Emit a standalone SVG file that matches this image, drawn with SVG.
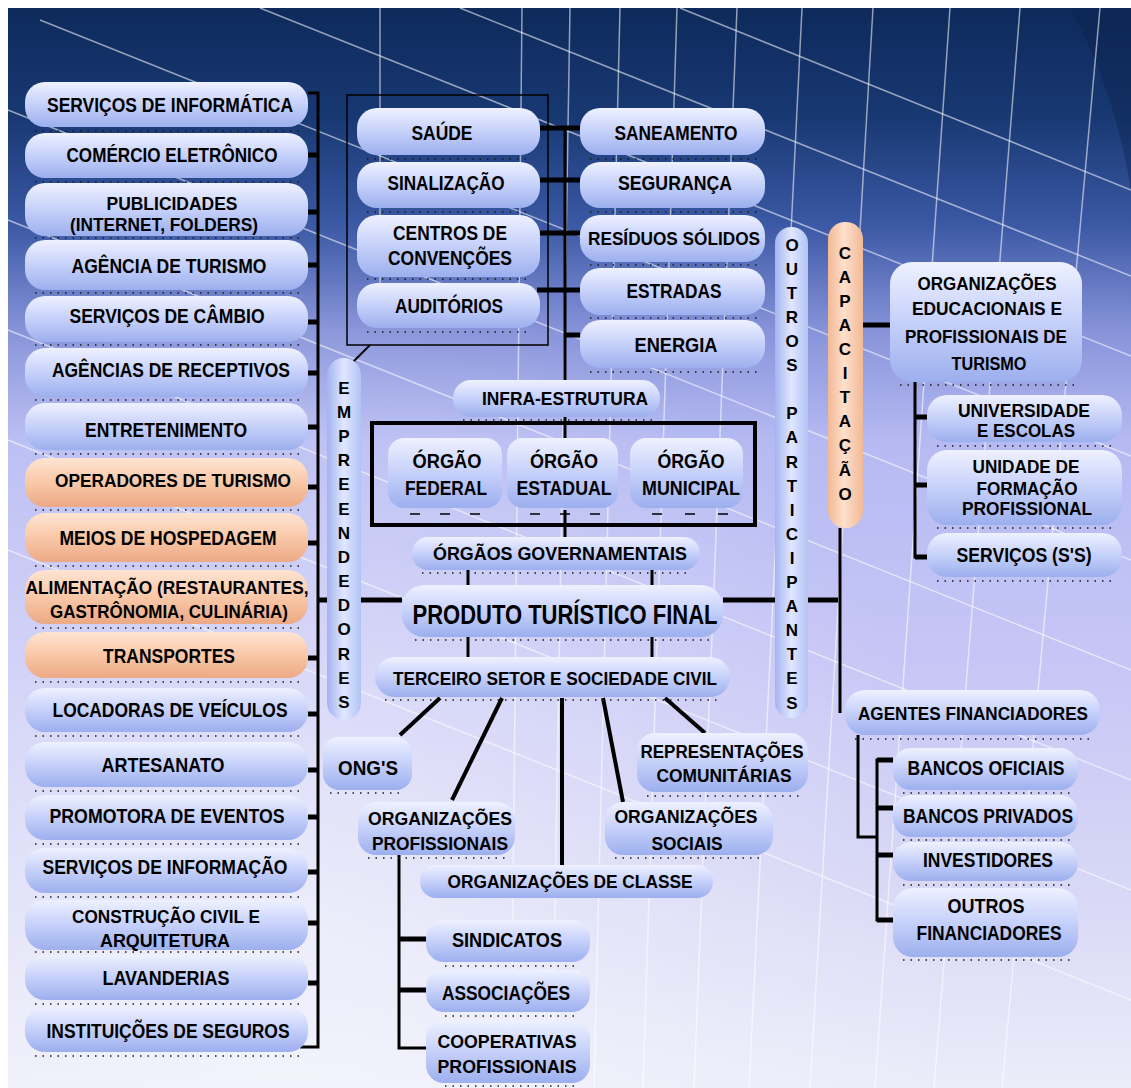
<svg xmlns="http://www.w3.org/2000/svg" width="1131" height="1088" viewBox="0 0 1131 1088">
<defs>
<linearGradient id="bg" x1="0" y1="0" x2="0" y2="1">
<stop offset="0" stop-color="#0e2a5c"/>
<stop offset="0.1" stop-color="#183872"/>
<stop offset="0.2" stop-color="#3b58a4"/>
<stop offset="0.3" stop-color="#8894da"/>
<stop offset="0.4" stop-color="#b6baf2"/>
<stop offset="0.6" stop-color="#c6c6f6"/>
<stop offset="0.8" stop-color="#d6d6f6"/>
<stop offset="1" stop-color="#ececfa"/>
</linearGradient>
<radialGradient id="glow" cx="0.25" cy="0.85" r="0.6">
<stop offset="0" stop-color="#ffffff" stop-opacity="0.5"/>
<stop offset="1" stop-color="#ffffff" stop-opacity="0"/>
</radialGradient>
<linearGradient id="gB" x1="0" y1="0" x2="0" y2="1">
<stop offset="0" stop-color="#eef1ff"/>
<stop offset="0.45" stop-color="#cad4fb"/>
<stop offset="1" stop-color="#9cafee"/>
</linearGradient>
<linearGradient id="gO" x1="0" y1="0" x2="0" y2="1">
<stop offset="0" stop-color="#fee4d2"/>
<stop offset="0.5" stop-color="#f9c8a8"/>
<stop offset="1" stop-color="#eca985"/>
</linearGradient>
<linearGradient id="gBV" x1="0" y1="0" x2="1" y2="0">
<stop offset="0" stop-color="#a2b4ef"/>
<stop offset="0.5" stop-color="#e0e7ff"/>
<stop offset="1" stop-color="#b2c2f4"/>
</linearGradient>
<linearGradient id="gOV" x1="0" y1="0" x2="1" y2="0">
<stop offset="0" stop-color="#f3b894"/>
<stop offset="0.45" stop-color="#fde0cc"/>
<stop offset="1" stop-color="#f2b996"/>
</linearGradient>
<style>
.p{fill:url(#gB)}
.o{fill:url(#gO)}
.pv{fill:url(#gBV)}
.ov{fill:url(#gOV)}
.sh{fill:none;stroke:#1a1a1a;stroke-width:1.6;stroke-dasharray:1.5 6}
.t{font-family:"Liberation Sans",Arial,sans-serif;font-size:21px;font-weight:bold;fill:#000;text-anchor:middle}
.s{font-size:19px}
.n{font-size:18px}
.v{font-family:"Liberation Sans",Arial,sans-serif;font-size:17px;font-weight:bold;fill:#000;text-anchor:middle}
.c{fill:none;stroke:#000;stroke-width:3}
.k{fill:none;stroke:#000;stroke-width:5}
.gl{fill:none;stroke:#ffffff;stroke-opacity:0.55;stroke-width:1.5}
</style>
</defs>

<g id="background">
<rect x="0" y="0" width="1131" height="1088" fill="#ffffff"/>
<rect x="8" y="8" width="1123" height="1080" fill="url(#bg)"/>
<path d="M1070,8 Q1115,90 1131,190 L1131,8 Z" fill="#0a2048" fill-opacity="0.35"/>
<rect x="8" y="8" width="1123" height="1080" fill="url(#glow)"/>
<g class="gl">
<path d="M522,8 L511,1088"/><path d="M570,8 L552,1088"/><path d="M620,8 L594,1088"/>
<path d="M677,8 L643,1088"/><path d="M737,8 L694,1088"/><path d="M802,8 L749,1088"/>
<path d="M873,8 L810,1088"/><path d="M950,8 L875,1088"/><path d="M1020,8 L934,1088"/>
<path d="M1100,8 L1002,1088"/><path d="M380,8 L380,300"/>
<path d="M460,8 L1131,276"/><path d="M260,8 L1131,356"/><path d="M40,20 L1131,456"/>
<path d="M8,110 L1131,560"/><path d="M8,220 L1131,670"/><path d="M8,330 L1131,780"/>
<path d="M8,440 L1131,890"/><path d="M8,550 L1131,1000"/><path d="M680,8 L1131,190"/>
</g>
</g>

<g id="connectors">
<path class="c" d="M308,93 H318 V1047 H300"/>
<g class="k">
<path d="M308,155 H318"/><path d="M308,212 H318"/><path d="M308,265 H318"/><path d="M308,322 H318"/>
<path d="M308,373 H318"/><path d="M308,427 H318"/><path d="M308,487 H318"/><path d="M308,543 H318"/>
<path d="M308,658 H318"/><path d="M308,714 H318"/><path d="M308,770 H318"/><path d="M308,817 H318"/>
<path d="M308,872 H318"/><path d="M308,923 H318"/><path d="M308,983 H318"/>
<path d="M318,600 H402"/><path d="M723,600 H838"/>
<path d="M540,128 H580"/><path d="M540,180 H580"/><path d="M540,233 H580"/><path d="M537,290 H580"/><path d="M565,335 H580"/>
<path d="M863,325 H890"/>
<path d="M915,417 H927"/><path d="M915,485 H927"/><path d="M915,557 H927"/>
<path d="M877,760 H893"/><path d="M877,808 H893"/><path d="M877,855 H893"/><path d="M877,920 H893"/>
<path d="M399,939 H426"/><path d="M399,990 H426"/>
</g>
<path class="c" d="M565,128 V380"/>
<path class="c" d="M565,417 V440"/>
<path class="c" d="M565,510 V537"/>
<path class="c" d="M468,570 V585"/><path class="c" d="M652,570 V585"/>
<path class="c" d="M468,637 V657"/><path class="c" d="M652,637 V657"/>
<path class="c" d="M840,528 V713"/>
<path class="c" d="M915,382 V557 H927"/>
<path class="c" d="M858,735 V837 H877"/>
<path class="c" d="M893,760 H877 V920 H893"/>
<path class="c" d="M399,855 V1048 H426"/>
<path d="M370,345 L353,362" stroke="#000" stroke-width="2" fill="none"/>
<g stroke="#000" stroke-width="4" fill="none">
<path d="M440,698 L400,735"/><path d="M502,698 L452,800"/><path d="M562,698 V865"/>
<path d="M603,698 L623,802"/><path d="M665,698 L705,733"/>
</g>
<rect x="347" y="95" width="201" height="250" fill="none" stroke="#000" stroke-width="1.5"/>
<rect x="372" y="423" width="383" height="102" fill="none" stroke="#000" stroke-width="4"/>
</g>

<!-- left column -->
<g id="n-servicos-informatica"><rect class="p" x="25" y="82" width="283" height="45" rx="20"/><path class="sh" d="M35,131 H300"/><text class="t" x="170" y="112" textLength="246" lengthAdjust="spacingAndGlyphs">SERVIÇOS DE INFORMÁTICA</text></g>
<g id="n-comercio"><rect class="p" x="25" y="133" width="283" height="45" rx="20"/><path class="sh" d="M35,182 H300"/><text class="t" x="172" y="162" textLength="211" lengthAdjust="spacingAndGlyphs">COMÉRCIO ELETRÔNICO</text></g>
<g id="n-publicidades"><rect class="p" x="25" y="183" width="283" height="53" rx="20"/><path class="sh" d="M35,238 H300"/><text class="t s" x="172" y="210" textLength="131" lengthAdjust="spacingAndGlyphs">PUBLICIDADES</text><text class="t s" x="164" y="231" textLength="188" lengthAdjust="spacingAndGlyphs">(INTERNET, FOLDERS)</text></g>
<g id="n-agencia-turismo"><rect class="p" x="25" y="240" width="283" height="50" rx="20"/><path class="sh" d="M35,293 H300"/><text class="t" x="169" y="273" textLength="195" lengthAdjust="spacingAndGlyphs">AGÊNCIA DE TURISMO</text></g>
<g id="n-cambio"><rect class="p" x="25" y="296" width="283" height="46" rx="20"/><path class="sh" d="M35,345 H300"/><text class="t" x="167" y="323" textLength="195" lengthAdjust="spacingAndGlyphs">SERVIÇOS DE CÂMBIO</text></g>
<g id="n-receptivos"><rect class="p" x="25" y="348" width="283" height="49" rx="20"/><path class="sh" d="M35,400 H300"/><text class="t" x="171" y="377" textLength="238" lengthAdjust="spacingAndGlyphs">AGÊNCIAS DE RECEPTIVOS</text></g>
<g id="n-entretenimento"><rect class="p" x="25" y="403" width="283" height="47" rx="20"/><path class="sh" d="M35,454 H300"/><text class="t" x="166" y="437" textLength="162" lengthAdjust="spacingAndGlyphs">ENTRETENIMENTO</text></g>
<g id="n-operadores"><rect class="o" x="25" y="458" width="283" height="49" rx="20"/><path class="sh" d="M35,510 H300"/><text class="t n" x="173" y="487" textLength="236" lengthAdjust="spacingAndGlyphs">OPERADORES DE TURISMO</text></g>
<g id="n-hospedagem"><rect class="o" x="25" y="513" width="283" height="49" rx="20"/><path class="sh" d="M35,566 H300"/><text class="t" x="168" y="545" textLength="217" lengthAdjust="spacingAndGlyphs">MEIOS DE HOSPEDAGEM</text></g>
<g id="n-alimentacao"><rect class="o" x="25" y="570" width="283" height="54" rx="20"/><path class="sh" d="M35,628 H300"/><text class="t s" x="167" y="594" textLength="283" lengthAdjust="spacingAndGlyphs">ALIMENTAÇÃO (RESTAURANTES,</text><text class="t s" x="169" y="618" textLength="238" lengthAdjust="spacingAndGlyphs">GASTRÔNOMIA, CULINÁRIA)</text></g>
<g id="n-transportes"><rect class="o" x="25" y="632" width="283" height="46" rx="20"/><path class="sh" d="M35,682 H300"/><text class="t" x="169" y="663" textLength="132" lengthAdjust="spacingAndGlyphs">TRANSPORTES</text></g>
<g id="n-locadoras"><rect class="p" x="25" y="688" width="283" height="44" rx="20"/><path class="sh" d="M35,736 H300"/><text class="t" x="170" y="717" textLength="235" lengthAdjust="spacingAndGlyphs">LOCADORAS DE VEÍCULOS</text></g>
<g id="n-artesanato"><rect class="p" x="25" y="742" width="283" height="45" rx="20"/><path class="sh" d="M35,791 H300"/><text class="t" x="163" y="772" textLength="123" lengthAdjust="spacingAndGlyphs">ARTESANATO</text></g>
<g id="n-promotora"><rect class="p" x="25" y="795" width="283" height="45" rx="20"/><path class="sh" d="M35,844 H300"/><text class="t" x="167" y="823" textLength="235" lengthAdjust="spacingAndGlyphs">PROMOTORA DE EVENTOS</text></g>
<g id="n-servicos-informacao"><rect class="p" x="25" y="848" width="283" height="45" rx="20"/><path class="sh" d="M35,897 H300"/><text class="t" x="165" y="874" textLength="245" lengthAdjust="spacingAndGlyphs">SERVIÇOS DE INFORMAÇÃO</text></g>
<g id="n-construcao"><rect class="p" x="25" y="900" width="283" height="50" rx="20"/><path class="sh" d="M35,952 H300"/><text class="t s" x="166" y="923" textLength="188" lengthAdjust="spacingAndGlyphs">CONSTRUÇÃO CIVIL E</text><text class="t s" x="165" y="947" textLength="130" lengthAdjust="spacingAndGlyphs">ARQUITETURA</text></g>
<g id="n-lavanderias"><rect class="p" x="25" y="955" width="283" height="45" rx="20"/><path class="sh" d="M35,1004 H300"/><text class="t" x="166" y="985" textLength="127" lengthAdjust="spacingAndGlyphs">LAVANDERIAS</text></g>
<g id="n-seguros"><rect class="p" x="25" y="1007" width="283" height="45" rx="20"/><path class="sh" d="M35,1056 H300"/><text class="t" x="168" y="1038" textLength="243" lengthAdjust="spacingAndGlyphs">INSTITUIÇÕES DE SEGUROS</text></g>

<!-- vertical labels -->
<g id="n-empreendedores"><rect class="pv" x="327" y="358" width="34" height="362" rx="17"/>
<text class="v"><tspan x="344" y="394">E</tspan><tspan x="344" y="418">M</tspan><tspan x="344" y="442">P</tspan><tspan x="344" y="466">R</tspan><tspan x="344" y="490">E</tspan><tspan x="344" y="515">E</tspan><tspan x="344" y="539">N</tspan><tspan x="344" y="563">D</tspan><tspan x="344" y="587">E</tspan><tspan x="344" y="611">D</tspan><tspan x="344" y="635">O</tspan><tspan x="344" y="660">R</tspan><tspan x="344" y="684">E</tspan><tspan x="344" y="708">S</tspan></text>
</g>
<g id="n-outros-participantes"><rect class="pv" x="775" y="227" width="33" height="491" rx="16"/>
<text class="v"><tspan x="792" y="251">O</tspan><tspan x="792" y="275">U</tspan><tspan x="792" y="299">T</tspan><tspan x="792" y="323">R</tspan><tspan x="792" y="347">O</tspan><tspan x="792" y="371">S</tspan><tspan x="792" y="419">P</tspan><tspan x="792" y="443">A</tspan><tspan x="792" y="468">R</tspan><tspan x="792" y="492">T</tspan><tspan x="792" y="516">I</tspan><tspan x="792" y="540">C</tspan><tspan x="792" y="564">I</tspan><tspan x="792" y="588">P</tspan><tspan x="792" y="612">A</tspan><tspan x="792" y="636">N</tspan><tspan x="792" y="660">T</tspan><tspan x="792" y="684">E</tspan><tspan x="792" y="709">S</tspan></text>
</g>
<g id="n-capacitacao"><rect class="ov" x="828" y="222" width="35" height="306" rx="17"/>
<text class="v"><tspan x="845" y="259">C</tspan><tspan x="845" y="283">A</tspan><tspan x="845" y="307">P</tspan><tspan x="845" y="331">A</tspan><tspan x="845" y="355">C</tspan><tspan x="845" y="379">I</tspan><tspan x="845" y="403">T</tspan><tspan x="845" y="427">A</tspan><tspan x="845" y="451">Ç</tspan><tspan x="845" y="476">Ã</tspan><tspan x="845" y="500">O</tspan></text>
</g>

<!-- infrastructure -->
<g id="n-saude"><rect class="p" x="357" y="108" width="183" height="47" rx="20"/><path class="sh" d="M367,159 H532"/><text class="t" x="442" y="140" textLength="61" lengthAdjust="spacingAndGlyphs">SAÚDE</text></g>
<g id="n-sinalizacao"><rect class="p" x="357" y="162" width="183" height="46" rx="20"/><path class="sh" d="M367,212 H532"/><text class="t" x="446" y="190" textLength="117" lengthAdjust="spacingAndGlyphs">SINALIZAÇÃO</text></g>
<g id="n-centros"><rect class="p" x="357" y="215" width="183" height="62" rx="20"/><path class="sh" d="M367,279 H532"/><text class="t" x="450" y="240" textLength="114" lengthAdjust="spacingAndGlyphs">CENTROS DE</text><text class="t" x="450" y="265" textLength="124" lengthAdjust="spacingAndGlyphs">CONVENÇÕES</text></g>
<g id="n-auditorios"><rect class="p" x="357" y="283" width="183" height="45" rx="20"/><path class="sh" d="M367,332 H532"/><text class="t" x="449" y="313" textLength="108" lengthAdjust="spacingAndGlyphs">AUDITÓRIOS</text></g>
<g id="n-saneamento"><rect class="p" x="580" y="108" width="185" height="47" rx="20"/><path class="sh" d="M590,159 H757"/><text class="t" x="676" y="140" textLength="123" lengthAdjust="spacingAndGlyphs">SANEAMENTO</text></g>
<g id="n-seguranca"><rect class="p" x="580" y="162" width="185" height="46" rx="20"/><path class="sh" d="M590,212 H757"/><text class="t" x="675" y="190" textLength="114" lengthAdjust="spacingAndGlyphs">SEGURANÇA</text></g>
<g id="n-residuos"><rect class="p" x="580" y="215" width="185" height="47" rx="20"/><path class="sh" d="M590,265 H757"/><text class="t n" x="674" y="245" textLength="172" lengthAdjust="spacingAndGlyphs">RESÍDUOS SÓLIDOS</text></g>
<g id="n-estradas"><rect class="p" x="580" y="268" width="185" height="47" rx="20"/><path class="sh" d="M590,318 H757"/><text class="t" x="674" y="298" textLength="95" lengthAdjust="spacingAndGlyphs">ESTRADAS</text></g>
<g id="n-energia"><rect class="p" x="580" y="320" width="185" height="48" rx="20"/><path class="sh" d="M590,372 H757"/><text class="t" x="676" y="352" textLength="83" lengthAdjust="spacingAndGlyphs">ENERGIA</text></g>
<g id="n-infra"><rect class="p" x="453" y="380" width="207" height="37" rx="18"/><path class="sh" d="M463,420 H652"/><text class="t s" x="565" y="405" textLength="166" lengthAdjust="spacingAndGlyphs">INFRA-ESTRUTURA</text></g>

<!-- government -->
<g id="n-orgao-federal"><rect class="p" x="388" y="438" width="114" height="70" rx="16"/><path d="M410,514 h10 M440,514 h10 M470,514 h10" stroke="#000" stroke-width="1.5"/><text class="t" x="447" y="468" textLength="69" lengthAdjust="spacingAndGlyphs">ÓRGÃO</text><text class="t" x="446" y="495" textLength="82" lengthAdjust="spacingAndGlyphs">FEDERAL</text></g>
<g id="n-orgao-estadual"><rect class="p" x="507" y="438" width="111" height="70" rx="16"/><path d="M530,514 h10 M560,514 h10 M590,514 h10" stroke="#000" stroke-width="1.5"/><text class="t" x="564" y="468" textLength="68" lengthAdjust="spacingAndGlyphs">ÓRGÃO</text><text class="t" x="564" y="495" textLength="95" lengthAdjust="spacingAndGlyphs">ESTADUAL</text></g>
<g id="n-orgao-municipal"><rect class="p" x="630" y="438" width="113" height="70" rx="16"/><path d="M652,514 h10 M685,514 h10 M718,514 h10" stroke="#000" stroke-width="1.5"/><text class="t" x="691" y="468" textLength="67" lengthAdjust="spacingAndGlyphs">ÓRGÃO</text><text class="t" x="691" y="495" textLength="98" lengthAdjust="spacingAndGlyphs">MUNICIPAL</text></g>
<g id="n-orgaos-gov"><rect class="p" x="412" y="537" width="288" height="33" rx="16"/><path class="sh" d="M422,573 H692"/><text class="t s" x="560" y="560" textLength="254" lengthAdjust="spacingAndGlyphs">ÓRGÃOS  GOVERNAMENTAIS</text></g>
<g id="n-produto"><rect class="p" x="402" y="585" width="321" height="52" rx="22"/><path class="sh" d="M415,640 H712"/><text class="t" x="565" y="624" style="font-size:27px" textLength="305" lengthAdjust="spacingAndGlyphs">PRODUTO TURÍSTICO FINAL</text></g>
<g id="n-terceiro"><rect class="p" x="375" y="657" width="355" height="40" rx="20"/><path class="sh" d="M385,700 H722"/><text class="t n" x="555" y="685" textLength="324" lengthAdjust="spacingAndGlyphs">TERCEIRO SETOR E SOCIEDADE CIVIL</text></g>

<!-- third sector -->
<g id="n-ongs"><rect class="p" x="323" y="737" width="89" height="53" rx="16"/><path class="sh" d="M330,793 H405"/><text class="t" x="368" y="775" textLength="60" lengthAdjust="spacingAndGlyphs">ONG'S</text></g>
<g id="n-org-profissionais"><rect class="p" x="358" y="802" width="157" height="53" rx="18"/><path class="sh" d="M368,858 H507"/><text class="t s" x="440" y="825" textLength="144" lengthAdjust="spacingAndGlyphs">ORGANIZAÇÕES</text><text class="t s" x="440" y="850" textLength="136" lengthAdjust="spacingAndGlyphs">PROFISSIONAIS</text></g>
<g id="n-representacoes"><rect class="p" x="637" y="733" width="171" height="59" rx="18"/><path class="sh" d="M647,796 H800"/><text class="t s" x="722" y="758" textLength="163" lengthAdjust="spacingAndGlyphs">REPRESENTAÇÕES</text><text class="t s" x="724" y="782" textLength="135" lengthAdjust="spacingAndGlyphs">COMUNITÁRIAS</text></g>
<g id="n-org-sociais"><rect class="p" x="605" y="802" width="168" height="53" rx="18"/><path class="sh" d="M615,858 H765"/><text class="t s" x="686" y="823" textLength="143" lengthAdjust="spacingAndGlyphs">ORGANIZAÇÕES</text><text class="t s" x="687" y="850" textLength="71" lengthAdjust="spacingAndGlyphs">SOCIAIS</text></g>
<g id="n-org-classe"><rect class="p" x="420" y="865" width="293" height="33" rx="16"/><text class="t s" x="570" y="888" textLength="245" lengthAdjust="spacingAndGlyphs">ORGANIZAÇÕES DE CLASSE</text></g>
<g id="n-sindicatos"><rect class="p" x="426" y="920" width="164" height="42" rx="18"/><path class="sh" d="M445,966 H575"/><text class="t" x="507" y="947" textLength="110" lengthAdjust="spacingAndGlyphs">SINDICATOS</text></g>
<g id="n-associacoes"><rect class="p" x="426" y="970" width="164" height="42" rx="18"/><path class="sh" d="M445,1016 H575"/><text class="t" x="506" y="1000" textLength="128" lengthAdjust="spacingAndGlyphs">ASSOCIAÇÕES</text></g>
<g id="n-cooperativas"><rect class="p" x="426" y="1020" width="164" height="63" rx="18"/><path class="sh" d="M445,1086 H575"/><text class="t s" x="507" y="1048" textLength="139" lengthAdjust="spacingAndGlyphs">COOPERATIVAS</text><text class="t s" x="507" y="1073" textLength="139" lengthAdjust="spacingAndGlyphs">PROFISSIONAIS</text></g>

<!-- right side -->
<g id="n-org-educacionais"><rect class="p" x="890" y="262" width="192" height="120" rx="22"/><path class="sh" d="M900,385 H1074"/><text class="t s" x="987" y="290" textLength="139" lengthAdjust="spacingAndGlyphs">ORGANIZAÇÕES</text><text class="t s" x="987" y="315" textLength="150" lengthAdjust="spacingAndGlyphs">EDUCACIONAIS E</text><text class="t s" x="986" y="343" textLength="162" lengthAdjust="spacingAndGlyphs">PROFISSIONAIS DE</text><text class="t s" x="989" y="370" textLength="75" lengthAdjust="spacingAndGlyphs">TURISMO</text></g>
<g id="n-universidade"><rect class="p" x="927" y="395" width="195" height="47" rx="20"/><path class="sh" d="M937,446 H1114"/><text class="t s" x="1024" y="417" textLength="132" lengthAdjust="spacingAndGlyphs">UNIVERSIDADE</text><text class="t s" x="1026" y="437" textLength="98" lengthAdjust="spacingAndGlyphs">E ESCOLAS</text></g>
<g id="n-unidade-formacao"><rect class="p" x="927" y="450" width="195" height="75" rx="20"/><path class="sh" d="M937,528 H1114"/><text class="t s" x="1026" y="473" textLength="107" lengthAdjust="spacingAndGlyphs">UNIDADE DE</text><text class="t s" x="1027" y="495" textLength="101" lengthAdjust="spacingAndGlyphs">FORMAÇÃO</text><text class="t s" x="1027" y="515" textLength="130" lengthAdjust="spacingAndGlyphs">PROFISSIONAL</text></g>
<g id="n-servicos-ss"><rect class="p" x="927" y="533" width="195" height="44" rx="20"/><path class="sh" d="M937,581 H1114"/><text class="t" x="1024" y="562" textLength="135" lengthAdjust="spacingAndGlyphs">SERVIÇOS (S'S)</text></g>
<g id="n-agentes"><rect class="p" x="845" y="690" width="255" height="45" rx="20"/><path class="sh" d="M855,739 H1090"/><text class="t s" x="973" y="720" textLength="230" lengthAdjust="spacingAndGlyphs">AGENTES FINANCIADORES</text></g>
<g id="n-bancos-oficiais"><rect class="p" x="893" y="748" width="185" height="42" rx="18"/><path class="sh" d="M903,793 H1070"/><text class="t" x="986" y="775" textLength="157" lengthAdjust="spacingAndGlyphs">BANCOS OFICIAIS</text></g>
<g id="n-bancos-privados"><rect class="p" x="893" y="795" width="185" height="42" rx="18"/><path class="sh" d="M903,840 H1070"/><text class="t" x="988" y="823" textLength="170" lengthAdjust="spacingAndGlyphs">BANCOS PRIVADOS</text></g>
<g id="n-investidores"><rect class="p" x="893" y="842" width="185" height="39" rx="18"/><path class="sh" d="M903,885 H1070"/><text class="t" x="988" y="867" textLength="130" lengthAdjust="spacingAndGlyphs">INVESTIDORES</text></g>
<g id="n-outros-financiadores"><rect class="p" x="893" y="888" width="185" height="69" rx="20"/><path class="sh" d="M903,960 H1070"/><text class="t" x="986" y="913" textLength="77" lengthAdjust="spacingAndGlyphs">OUTROS</text><text class="t" x="989" y="940" textLength="145" lengthAdjust="spacingAndGlyphs">FINANCIADORES</text></g>
</svg>
